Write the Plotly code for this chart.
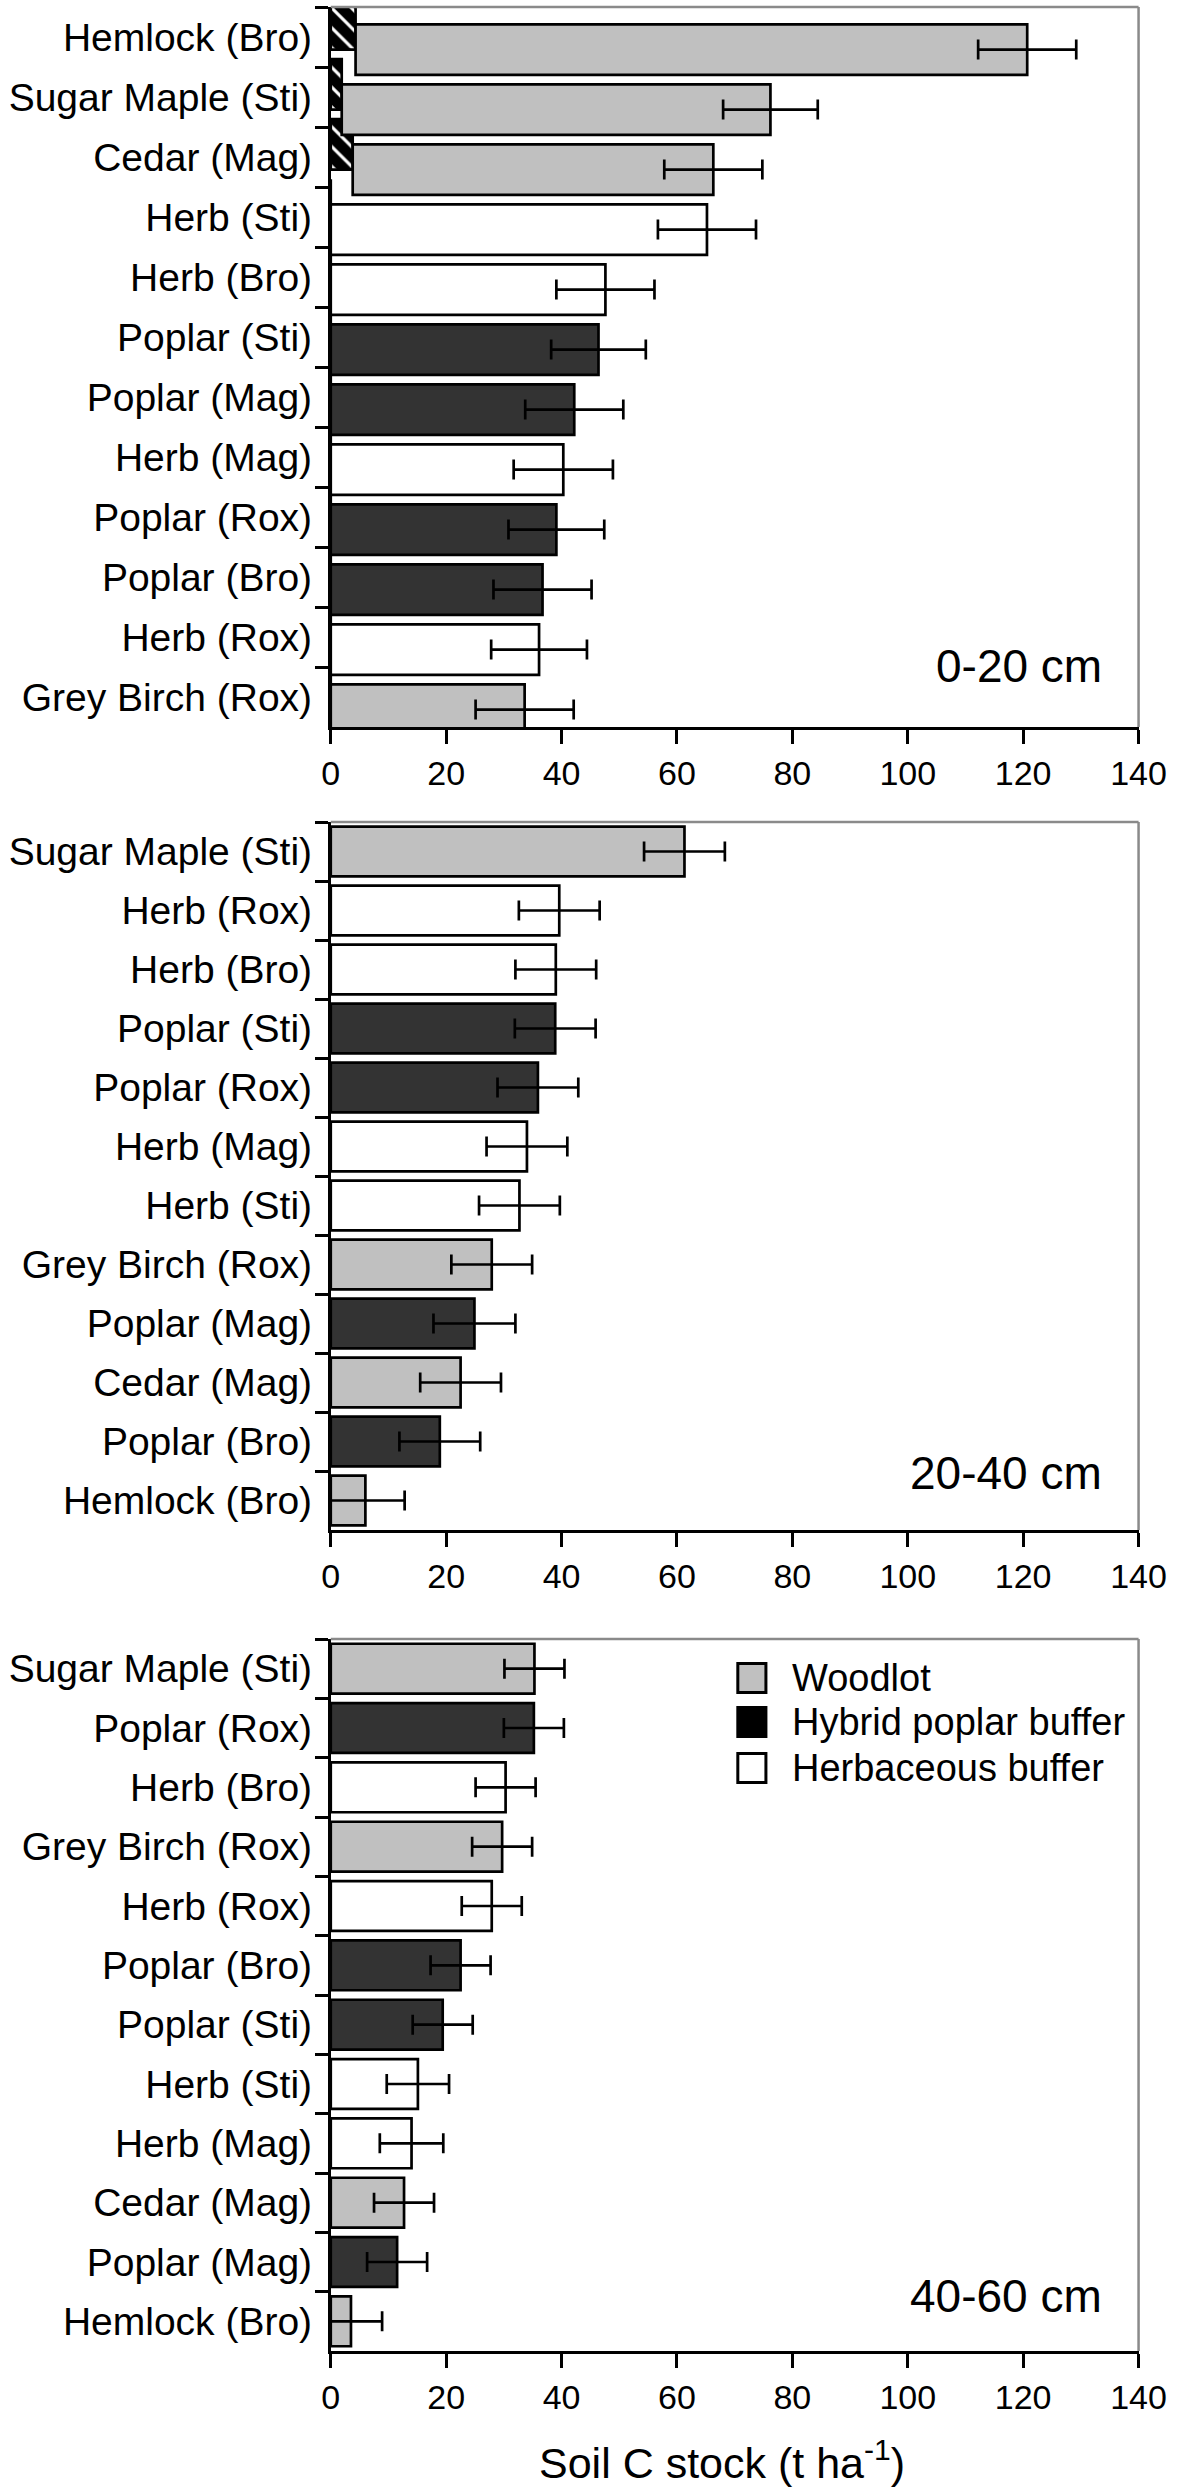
import plotly.graph_objects as go

# ---------------- data ----------------
cats_0_20 = ["Hemlock (Bro)", "Sugar Maple (Sti)", "Cedar (Mag)", "Herb (Sti)", "Herb (Bro)",
             "Poplar (Sti)", "Poplar (Mag)", "Herb (Mag)", "Poplar (Rox)", "Poplar (Bro)",
             "Herb (Rox)", "Grey Birch (Rox)"]
vals_0_20 = [120.7, 76.2, 66.3, 65.2, 47.6, 46.4, 42.2, 40.3, 39.1, 36.7, 36.1, 33.6]
err_0_20 = [8.5, 8.2, 8.5, 8.5, 8.5, 8.2, 8.5, 8.6, 8.3, 8.5, 8.3, 8.5]
floor_0_20 = [4.3, 1.9, 3.8, 0, 0, 0, 0, 0, 0, 0, 0, 0]

cats_20_40 = ["Sugar Maple (Sti)", "Herb (Rox)", "Herb (Bro)", "Poplar (Sti)", "Poplar (Rox)",
              "Herb (Mag)", "Herb (Sti)", "Grey Birch (Rox)", "Poplar (Mag)", "Cedar (Mag)",
              "Poplar (Bro)", "Hemlock (Bro)"]
vals_20_40 = [61.3, 39.6, 39.0, 38.9, 35.9, 34.0, 32.7, 27.9, 24.9, 22.5, 18.9, 6.0]
err_20_40 = [7.0, 7.0, 7.0, 7.0, 7.0, 7.0, 7.0, 7.0, 7.1, 7.0, 7.0, 6.8]

cats_40_60 = ["Sugar Maple (Sti)", "Poplar (Rox)", "Herb (Bro)", "Grey Birch (Rox)", "Herb (Rox)",
              "Poplar (Bro)", "Poplar (Sti)", "Herb (Sti)", "Herb (Mag)", "Cedar (Mag)",
              "Poplar (Mag)", "Hemlock (Bro)"]
vals_40_60 = [35.3, 35.2, 30.3, 29.7, 27.9, 22.5, 19.4, 15.1, 14.0, 12.7, 11.5, 3.5]
err_40_60 = [5.2, 5.2, 5.2, 5.2, 5.2, 5.2, 5.2, 5.4, 5.5, 5.2, 5.2, 5.4]

depth_labels = ["0-20 cm", "20-40 cm", "40-60 cm"]
legend_labels = ["Woodlot", "Hybrid poplar buffer", "Herbaceous buffer"]
x_ticks = [0, 20, 40, 60, 80, 100, 120, 140]
x_title = "Soil C stock (t ha<sup>-1</sup>)"

# ---------------- style ----------------
W, H = 1200, 2492
FONT = "Liberation Sans, Arial, Helvetica, sans-serif"
GREY, DARK, WHITE = "#c0c0c0", "#333333", "#ffffff"
X0, X1 = 332, 1165.5
PANELS = [(7, 727), (822, 1530), (1639, 2351)]
LABEL_Y = [666, 1473, 2296]
LW = 2.7


def color_for(cat):
    if cat.startswith("Herb"):
        return WHITE
    if cat.startswith("Poplar"):
        return DARK
    return GREY


def py(ypx):
    return 1 - ypx / H


fig = go.Figure()
panels = [
    (cats_0_20, vals_0_20, err_0_20, floor_0_20),
    (cats_20_40, vals_20_40, err_20_40, [0] * 12),
    (cats_40_60, vals_40_60, err_40_60, [0] * 12),
]

shapes = []
annotations = []
for i, (cats, vals, errs, floors) in enumerate(panels):
    sfx = "" if i == 0 else str(i + 1)
    xa, ya = "x" + sfx, "y" + sfx
    if any(f > 0 for f in floors):
        fig.add_trace(go.Bar(
            x=floors, y=cats, orientation="h", xaxis=xa, yaxis=ya, width=0.84,
            marker=dict(color="black", line=dict(color="black", width=LW),
                        pattern=dict(shape="\\", fgcolor="white", bgcolor="black",
                                     size=14, solidity=0.22, fillmode="replace")),
            showlegend=False, hoverinfo="skip"))
    fig.add_trace(go.Bar(
        x=[v - f for v, f in zip(vals, floors)], base=floors, y=cats, orientation="h",
        xaxis=xa, yaxis=ya, width=0.84,
        marker=dict(color=[color_for(c) for c in cats], line=dict(color="black", width=LW)),
        error_x=dict(type="data", array=errs, color="black", thickness=LW, width=10),
        showlegend=False))

    top, bot = PANELS[i]
    fig.update_layout(**{
        ("xaxis" + sfx): dict(domain=[X0 / W, X1 / W], range=[0, 140], tickvals=x_ticks,
                              anchor=ya, ticks="outside", ticklen=14, tickwidth=LW,
                              tickcolor="black", showline=True, linewidth=LW, linecolor="black",
                              showgrid=False, zeroline=False,
                              tickfont=dict(family=FONT, size=34, color="black")),
        ("yaxis" + sfx): dict(domain=[py(bot), py(top)], type="category", categoryarray=cats,
                              categoryorder="array", range=[11.5, -0.5], anchor=xa,
                              tickson="boundaries", ticks="outside", ticklen=13, tickwidth=LW,
                              tickcolor="black", showline=True, linewidth=LW, linecolor="black",
                              showgrid=False, zeroline=False, ticklabelstandoff=8,
                              tickfont=dict(family=FONT, size=39, color="black")),
    })
    # grey top and right frame lines
    shapes.append(dict(type="line", xref=xa + " domain", yref=ya + " domain",
                       x0=0, x1=1, y0=1, y1=1, line=dict(color="#8a8a8a", width=2.5)))
    shapes.append(dict(type="line", xref=xa + " domain", yref=ya + " domain",
                       x0=1, x1=1, y0=0, y1=1, line=dict(color="#8a8a8a", width=2.5)))
    annotations.append(dict(text=depth_labels[i], xref="paper", yref="paper",
                            x=1130 / W, y=py(LABEL_Y[i]), xanchor="right", yanchor="middle",
                            showarrow=False, font=dict(family=FONT, size=46, color="black")))

# legend drawn manually
leg_colors = [GREY, "black", WHITE]
leg_y = [1678, 1722, 1768]
for lab, col, yc in zip(legend_labels, leg_colors, leg_y):
    shapes.append(dict(type="rect", xref="paper", yref="paper",
                       x0=752 / W, x1=781 / W, y0=py(yc + 14.5), y1=py(yc - 14.5),
                       fillcolor=col, line=dict(color="black", width=3)))
    annotations.append(dict(text=lab, xref="paper", yref="paper", x=806 / W, y=py(yc),
                            xanchor="left", yanchor="middle", showarrow=False,
                            font=dict(family=FONT, size=38, color="black")))

annotations.append(dict(text=x_title, xref="paper", yref="paper", x=736 / W, y=py(2460),
                        xanchor="center", yanchor="middle", showarrow=False,
                        font=dict(family=FONT, size=43, color="black")))

fig.update_layout(width=W, height=H, margin=dict(l=0, r=0, t=0, b=0),
                  paper_bgcolor="white", plot_bgcolor="white", bargap=0.16,
                  shapes=shapes, annotations=annotations, showlegend=False)

fig.write_html("out.html", config={"displayModeBar": False},
               post_script="document.body.style.margin='0';document.body.style.overflow='hidden';"
                           "document.documentElement.style.overflow='hidden';")
